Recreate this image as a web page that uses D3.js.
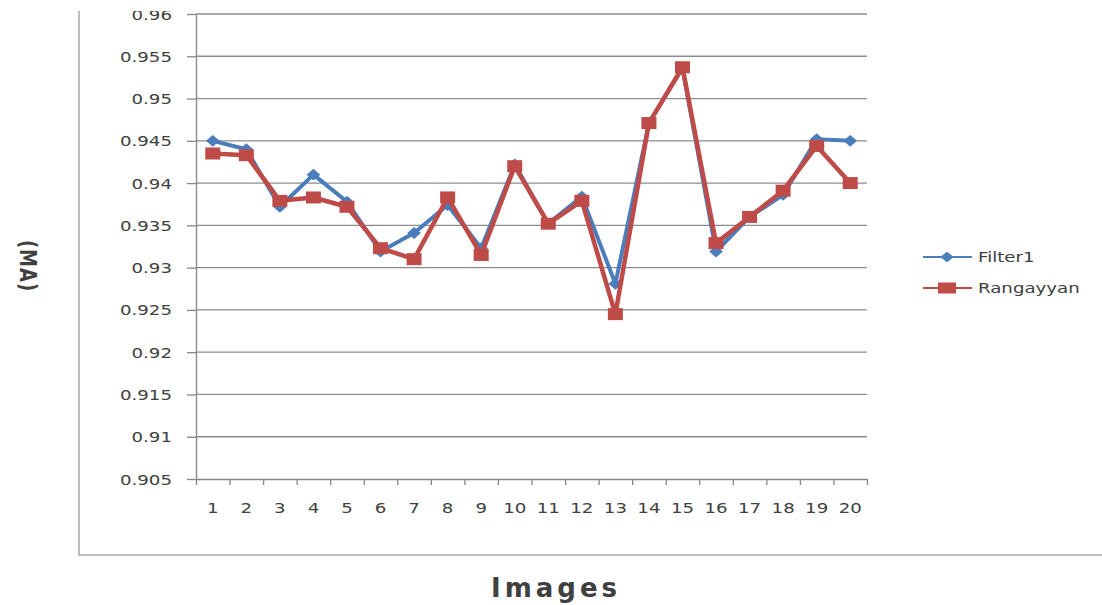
<!DOCTYPE html>
<html>
<head>
<meta charset="utf-8">
<script src="https://cdn.jsdelivr.net/npm/d3@7"></script>
<style>
  html, body { margin: 0; padding: 0; background: #fff; }
  svg { display: block; }
  text { font-family: "DejaVu Sans", Verdana, sans-serif; fill: #404040; }
</style>
</head>
<body>
<svg id="chart" width="1102" height="605"></svg>
<script>
// Image indices along the x axis
const images = ["1","2","3","4","5","6","7","8","9","10","11","12","13","14","15","16","17","18","19","20"];
// Series values
const filter1 = [0.9450, 0.9440, 0.9372, 0.9410, 0.9378, 0.9319, 0.9341, 0.9374, 0.9323, 0.9422,
                 0.9352, 0.9384, 0.9281, 0.9471, 0.9536, 0.9319, 0.9360, 0.9386, 0.9452, 0.9450];
const rangayyan = [0.9435, 0.9433, 0.9379, 0.9383, 0.9372, 0.9323, 0.9310, 0.9383, 0.9315, 0.9420,
                   0.9352, 0.9379, 0.9245, 0.9471, 0.9537, 0.9329, 0.9360, 0.9391, 0.9444, 0.9400];
// Y tick labels
const yTicks = [0.905, 0.91, 0.915, 0.92, 0.925, 0.93, 0.935, 0.94, 0.945, 0.95, 0.955, 0.96];
const seriesNames = ["Filter1", "Rangayyan"];

const svg = d3.select("#chart");
const plot = { left: 196, right: 867, top: 14, bottom: 479 };
const stretch = 1.3; // wide glyph rendering of the labels

const blue = "#4a7dbb", red = "#be4b48";

// Clip the very top edge of the figure
svg.append("defs").append("clipPath").attr("id", "page")
  .append("rect").attr("x", 0).attr("y", 11).attr("width", 1102).attr("height", 600);
const root = svg.append("g").attr("clip-path", "url(#page)");

// Outer chart frame (left and bottom edges visible)
root.append("path")
  .attr("d", "M79,11 V555 H1102")
  .attr("fill", "none").attr("stroke", "#a6a6a6").attr("stroke-width", 1.5);

const x = d3.scaleBand().domain(images).range([plot.left, plot.right]).padding(0);
const xEdge = d3.scaleLinear().domain([0, images.length]).range([plot.left, plot.right]);
const y = d3.scaleLinear().domain([0.905, 0.96]).range([plot.bottom, plot.top]);

// Horizontal gridlines
root.append("g").selectAll("line").data(yTicks.filter(v => v > 0.905)).join("line")
  .attr("x1", plot.left).attr("x2", plot.right)
  .attr("y1", d => y(d)).attr("y2", d => y(d))
  .attr("stroke", "#8c8c8c").attr("stroke-width", 1.3);

// Y axis
const yAxis = root.append("g").attr("transform", `translate(${plot.left},0)`)
  .call(d3.axisLeft(y).tickValues(yTicks).tickSize(9).tickSizeOuter(0).tickFormat(d => String(+d.toFixed(3))));
yAxis.select(".domain").attr("stroke", "#868686").attr("stroke-width", 1.3);
yAxis.selectAll(".tick line").attr("stroke", "#868686").attr("stroke-width", 1.3);
yAxis.selectAll(".tick text")
  .attr("x", null).attr("dy", "0.36em")
  .attr("transform", `translate(-24,0) scale(${stretch},1)`)
  .attr("font-size", 14).attr("font-family", "DejaVu Sans").attr("fill", "#404040");

// X axis: boundary ticks
const xTicks = root.append("g").attr("transform", `translate(0,${plot.bottom})`)
  .call(d3.axisBottom(xEdge).tickValues(d3.range(images.length + 1)).tickSize(6).tickSizeOuter(0).tickFormat(""));
xTicks.select(".domain").attr("stroke", "#868686").attr("stroke-width", 1.3);
xTicks.selectAll(".tick line").attr("stroke", "#868686").attr("stroke-width", 1.3);

// X axis: category labels
const xLabels = root.append("g").attr("transform", `translate(0,${plot.bottom})`)
  .call(d3.axisBottom(x).tickSize(0).tickSizeOuter(0));
xLabels.select(".domain").remove();
xLabels.selectAll(".tick text")
  .attr("y", null).attr("dy", null)
  .attr("transform", `translate(0,34) scale(${stretch},1)`)
  .attr("font-size", 14).attr("font-family", "DejaVu Sans").attr("fill", "#262626");

// Series lines and markers
const line = d3.line().x((d, i) => x(images[i]) + x.bandwidth() / 2).y(d => y(d));
const diamond = d3.symbol().type(d3.symbolDiamond2).size(90);

root.append("path").datum(filter1)
  .attr("d", line).attr("fill", "none").attr("stroke", blue)
  .attr("stroke-width", 4).attr("stroke-linejoin", "round");
root.append("g").selectAll("path").data(filter1).join("path")
  .attr("d", diamond)
  .attr("transform", (d, i) => `translate(${x(images[i]) + x.bandwidth() / 2},${y(d)}) scale(1.15,1)`)
  .attr("fill", blue);

root.append("path").datum(rangayyan)
  .attr("d", line).attr("fill", "none").attr("stroke", red)
  .attr("stroke-width", 4.5).attr("stroke-linejoin", "round");
root.append("g").selectAll("rect").data(rangayyan).join("rect")
  .attr("x", (d, i) => x(images[i]) + x.bandwidth() / 2 - 7.5)
  .attr("y", d => y(d) - 6)
  .attr("width", 15).attr("height", 12)
  .attr("fill", red);

// Legend
const legend = root.append("g");
const legendItems = [
  { name: seriesNames[0], color: blue, yPos: 257, shape: "diamond" },
  { name: seriesNames[1], color: red, yPos: 288, shape: "square" }
];
legendItems.forEach(item => {
  legend.append("line").attr("x1", 923).attr("x2", 972)
    .attr("y1", item.yPos).attr("y2", item.yPos)
    .attr("stroke", item.color).attr("stroke-width", 2.2);
  if (item.shape === "diamond") {
    legend.append("path").attr("d", d3.symbol().type(d3.symbolDiamond2).size(70))
      .attr("transform", `translate(947,${item.yPos}) scale(1.3,1)`).attr("fill", item.color);
  } else {
    legend.append("rect").attr("x", 938).attr("y", item.yPos - 5.5)
      .attr("width", 18).attr("height", 11).attr("fill", item.color);
  }
  legend.append("text")
    .attr("transform", `translate(978,${item.yPos}) scale(${stretch},1)`)
    .attr("dy", "0.36em").attr("font-size", 14).attr("fill", "#262626")
    .text(item.name);
});

// Axis titles
root.append("text")
  .attr("transform", "translate(20,266) rotate(90) scale(1,1.3)")
  .attr("text-anchor", "middle")
  .attr("font-size", 18).attr("font-weight", "bold").attr("letter-spacing", 1)
  .attr("fill", "#2a2a3a")
  .text("(MA)");

root.append("text")
  .attr("transform", "translate(556,597)")
  .attr("text-anchor", "middle")
  .attr("font-size", 26).attr("font-weight", "bold").attr("letter-spacing", 4)
  .attr("fill", "#3b3d4e")
  .text("Images");
</script>
</body>
</html>
